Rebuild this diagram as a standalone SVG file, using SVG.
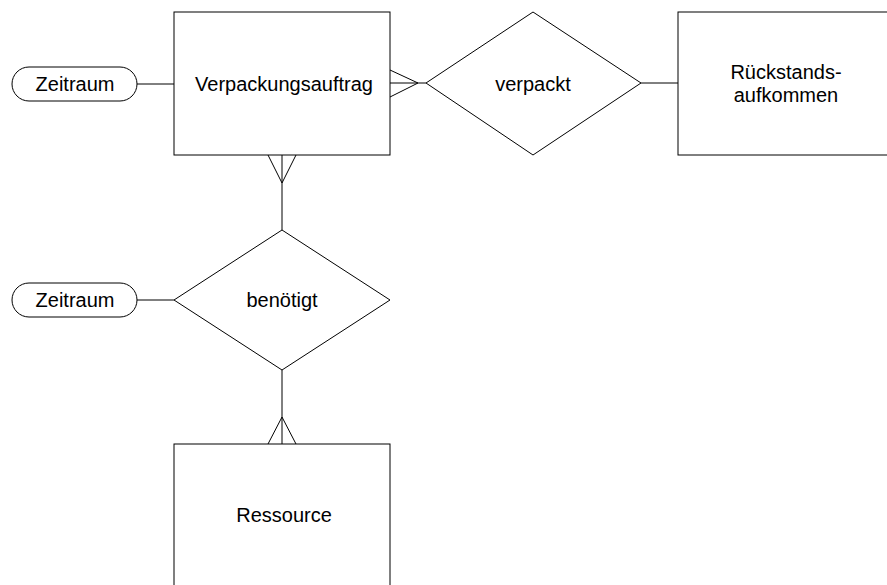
<svg xmlns="http://www.w3.org/2000/svg" width="887" height="585" viewBox="0 0 887 585">
<style>
.s{fill:#fff;stroke:#000;stroke-width:1}
.c{fill:none;stroke:#000;stroke-width:1}
text{font-family:"Liberation Sans",Arial,sans-serif;font-size:20px;fill:#000;text-anchor:middle}
</style>
<rect width="887" height="585" fill="#fff"/>
<g id="connectors">
<line class="c" x1="137" y1="84" x2="174" y2="84"/>
<line class="c" x1="390" y1="83" x2="426" y2="83"/>
<line class="c" x1="390" y1="70" x2="418" y2="83"/>
<line class="c" x1="390" y1="97" x2="418" y2="83"/>
<line class="c" x1="641" y1="83" x2="678" y2="83"/>
<line class="c" x1="282" y1="155" x2="282" y2="230"/>
<line class="c" x1="268" y1="155" x2="282" y2="183"/>
<line class="c" x1="296" y1="155" x2="282" y2="183"/>
<line class="c" x1="137" y1="300" x2="174" y2="300"/>
<line class="c" x1="282" y1="370" x2="282" y2="444"/>
<line class="c" x1="268" y1="444" x2="282" y2="417"/>
<line class="c" x1="296" y1="444" x2="282" y2="417"/>
</g>
<g id="zeitraum1">
<rect class="s" x="12" y="67" width="125" height="34" rx="17"/>
<text x="75" y="91">Zeitraum</text>
</g>
<g id="verpackungsauftrag">
<rect class="s" x="174" y="12" width="216" height="143"/>
<text x="284" y="91">Verpackungsauftrag</text>
</g>
<g id="verpackt">
<polygon class="s" points="426,83 533,12 641,83 533,155"/>
<text x="533" y="91">verpackt</text>
</g>
<g id="rueckstandsaufkommen">
<rect class="s" x="678" y="12" width="220" height="143"/>
<text x="786" y="79">Rückstands-</text>
<text x="786" y="102">aufkommen</text>
</g>
<g id="zeitraum2">
<rect class="s" x="12" y="283" width="125" height="34" rx="17"/>
<text x="75" y="307">Zeitraum</text>
</g>
<g id="benoetigt">
<polygon class="s" points="174,300 282,230 390,300 282,370"/>
<text x="282" y="307">benötigt</text>
</g>
<g id="ressource">
<rect class="s" x="174" y="444" width="216" height="160"/>
<text x="284" y="522">Ressource</text>
</g>
</svg>
